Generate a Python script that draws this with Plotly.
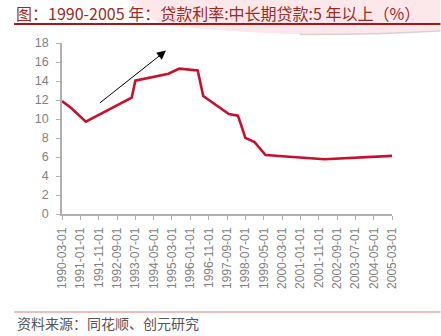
import plotly.graph_objects as go

# ---- data ----
dates = ["1990-03-01", "1990-08-01", "1991-04-01", "1993-05-01", "1993-07-01",
         "1995-01-01", "1995-07-01", "1996-05-01", "1996-08-01", "1997-10-01",
         "1998-03-01", "1998-07-01", "1998-12-01", "1999-06-01", "2002-02-01",
         "2004-10-01", "2005-03-01"]
rates = [11.88, 11.16, 9.72, 12.24, 14.04,
         14.76, 15.30, 15.12, 12.42, 10.53,
         10.35, 8.01, 7.56, 6.21, 5.76,
         6.12, 6.12]
tick_dates = ["1990-03-01", "1991-01-01", "1991-11-01", "1992-09-01", "1993-07-01",
              "1994-05-01", "1995-03-01", "1996-01-01", "1996-11-01", "1997-09-01",
              "1998-07-01", "1999-05-01", "2000-03-01", "2001-01-01", "2001-11-01",
              "2002-09-01", "2003-07-01", "2004-05-01", "2005-03-01"]
title_text = "图：1990-2005 年：贷款利率:中长期贷款:5 年以上（%）"
source_text = "资料来源：同花顺、创元研究"

W, H = 441, 336
L, R, T, B = 62, 48.5, 43, 122
PW, PH = W - L - R, H - T - B


def px(x):
    return (x - L) / PW


def py(y):
    return (H - B - y) / PH


fig = go.Figure()
fig.add_trace(go.Scatter(
    x=dates, y=rates, mode="lines",
    line=dict(color="#C8102E", width=2.6),
    hoverinfo="skip", showlegend=False,
))

shapes = []
# pink swoosh decoration (top right)
shapes.append(dict(
    type="path", xref="paper", yref="paper", layer="below",
    path=(f"M {px(130)} {py(0)} L {px(441)} {py(0)} L {px(441)} {py(31)} "
          f"Q {px(360)} {py(36)} {px(290)} {py(34)} "
          f"Q {px(200)} {py(30)} {px(160)} {py(24)} "
          f"Q {px(140)} {py(10)} {px(130)} {py(0)} Z"),
    fillcolor="rgba(250,210,216,0.5)", line=dict(width=0),
))
shapes.append(dict(
    type="path", xref="paper", yref="paper", layer="below",
    path=(f"M {px(300)} {py(34.5)} Q {px(370)} {py(35)} {px(441)} {py(31)}"),
    line=dict(color="rgba(170,170,170,0.45)", width=1.5),
))
# title underline
shapes.append(dict(type="line", xref="paper", yref="paper",
                   x0=px(14), x1=px(441), y0=py(24), y1=py(24),
                   line=dict(color="#A01818", width=2)))
# footer line
shapes.append(dict(type="line", xref="paper", yref="paper",
                   x0=px(14), x1=px(441), y0=py(312), y1=py(312),
                   line=dict(color="#D08080", width=1)))

annotations = [
    dict(text=title_text, xref="paper", yref="paper", x=px(14), y=py(13),
         xanchor="left", yanchor="middle", showarrow=False,
         font=dict(family="Noto Sans CJK SC", size=16, color="#9E2A24")),
    dict(text=source_text, xref="paper", yref="paper", x=px(15), y=py(323),
         xanchor="left", yanchor="middle", showarrow=False,
         font=dict(family="Noto Sans CJK SC", size=14, color="#555555")),
    dict(x="1994-11-22", y=17.2, ax="1991-10-28", ay=11.58,
         xref="x", yref="y", axref="x", ayref="y",
         showarrow=True, arrowhead=2, arrowsize=1.8, arrowwidth=1,
         arrowcolor="#000000", text=""),
]

fig.update_layout(
    width=W, height=H,
    margin=dict(l=L, r=R, t=T, b=B, pad=0),
    paper_bgcolor="white", plot_bgcolor="rgba(0,0,0,0)",
    shapes=shapes, annotations=annotations,
    font=dict(family="Liberation Sans, Arial", color="#7F7F7F", size=12),
    xaxis=dict(
        type="date", range=["1990-03-01", "2005-03-01"],
        tickvals=tick_dates, ticktext=tick_dates, tickangle=-90,
        showgrid=False, zeroline=False,
        showline=True, linecolor="#B0B0B0", linewidth=1.5,
        ticks="outside", ticklen=4, tickcolor="#B0B0B0", tickwidth=1,
        ticklabelstandoff=3,
        tickfont=dict(size=12, color="#7F7F7F"),
    ),
    yaxis=dict(
        range=[0, 18], dtick=2, tick0=0,
        showgrid=False, zeroline=False,
        showline=True, linecolor="#B0B0B0", linewidth=1.5,
        ticks="outside", ticklen=4, tickcolor="#B0B0B0", tickwidth=1,
        ticklabelstandoff=5,
        tickfont=dict(size=12.5, color="#7F7F7F"),
    ),
)

fig.write_html("out.html")
